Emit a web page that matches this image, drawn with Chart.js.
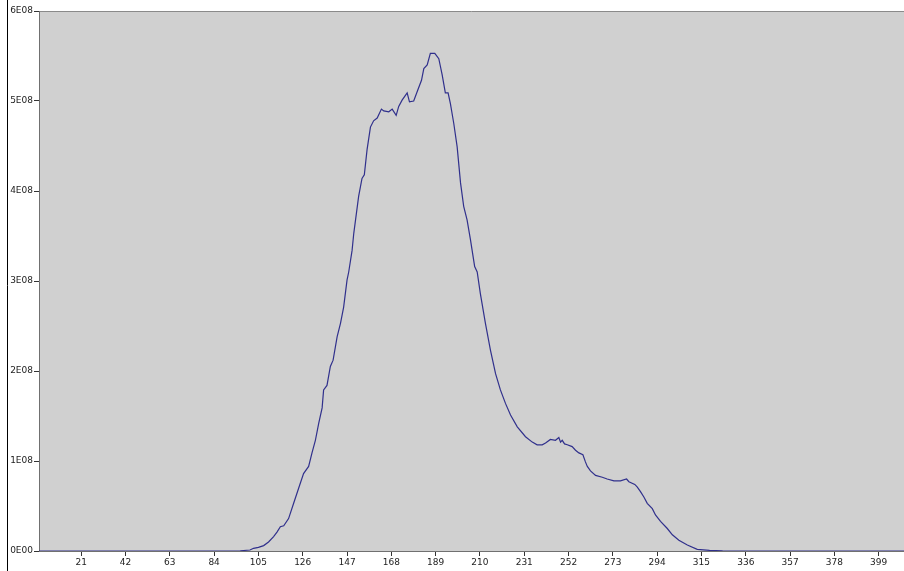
<!DOCTYPE html>
<html>
<head>
<meta charset="utf-8">
<title>Histogram</title>
<script src="https://cdn.jsdelivr.net/npm/chart.js@4.4.0/dist/chart.umd.min.js"></script>
<style>
    body { margin: 0; background: #fff; }
    canvas { display: block; }
</style>
</head>
<body>
<canvas id="histChart" width="904" height="571"></canvas>
<script>
// Values (y in units of 1E08)
const X_VALUES = [1, 85, 96.4, 101, 102.7, 105, 107.5, 109.8, 112.2, 113.8, 115.4, 117, 119.3, 121.7, 124.1, 126.4, 128.8, 130.4, 132, 133.6,
    135.2, 135.9, 137.5, 139.1, 140.4, 142.3, 143.9, 145.4, 147, 147.8, 149.4, 150.2, 152.5, 154.1, 155.2, 156.5, 158.1, 159.6, 161.3, 163.3,
    164.4, 166.8, 168.4, 170.3, 171.5, 173.1, 175.5, 176.6, 178.6, 180.5, 182.3, 183.4, 185, 186.5, 188.6, 190.5, 192.1, 193.6, 194.9, 196,
    197.6, 199.2, 200.8, 202.3, 203.9, 205.5, 207.5, 208.7, 210.2, 212.6, 215, 217.4, 219.7, 222.1, 224.5, 227.7, 231.6, 234.8, 237.1, 239.5,
    241.1, 243.4, 245.8, 247.4, 248.2, 249, 250.1, 251.4, 253.7, 255.3, 256.9, 258.8, 260, 260.9, 262.4, 264.8, 268, 270.3, 273.5, 276.6,
    279.5, 280.6, 283.4, 284.6, 286.1, 287.7, 289.3, 291.7, 293.2, 295.6, 298.8, 301.2, 304.3, 308.3, 313, 318.8, 325, 411];

const Y_VALUES = [0, 0, 0.003, 0.011, 0.03, 0.041, 0.06, 0.10, 0.16, 0.21, 0.27, 0.28, 0.36, 0.53, 0.70, 0.86, 0.94, 1.09, 1.23, 1.42,
    1.59, 1.79, 1.84, 2.05, 2.12, 2.38, 2.53, 2.71, 3.01, 3.10, 3.34, 3.53, 3.94, 4.14, 4.18, 4.46, 4.71, 4.78, 4.81, 4.91,
    4.89, 4.88, 4.91, 4.84, 4.94, 5.01, 5.09, 4.99, 5.00, 5.12, 5.23, 5.36, 5.40, 5.53, 5.53, 5.47, 5.29, 5.09, 5.09, 4.97,
    4.75, 4.49, 4.09, 3.83, 3.68, 3.46, 3.16, 3.10, 2.86, 2.53, 2.23, 1.97, 1.79, 1.64, 1.51, 1.38, 1.27, 1.21, 1.18, 1.18,
    1.20, 1.24, 1.23, 1.26, 1.21, 1.23, 1.19, 1.18, 1.16, 1.12, 1.09, 1.07, 0.99, 0.94, 0.89, 0.84, 0.82, 0.80, 0.78, 0.78,
    0.80, 0.77, 0.74, 0.71, 0.66, 0.60, 0.53, 0.47, 0.40, 0.33, 0.25, 0.18, 0.12, 0.067, 0.019, 0.008, 0.003, 0];

const X_TICKS = [21, 42, 63, 84, 105, 126, 147, 168, 189, 210, 231, 252, 273, 294, 315, 336, 357, 378, 399];
const Y_TICKS = [0, 1, 2, 3, 4, 5, 6];
const Y_TICK_LABELS = ['0E00', '1E08', '2E08', '3E08', '4E08', '5E08', '6E08'];

// Gray plot background, top border and the black frame line on the left
const framePlugin = {
    id: 'frame',
    beforeDraw(chart) {
        const { ctx, chartArea: a } = chart;
        ctx.save();
        ctx.fillStyle = '#d0d0d0';
        ctx.fillRect(a.left, a.top, a.right - a.left, a.bottom - a.top);
        ctx.strokeStyle = '#000';
        ctx.lineWidth = 1;
        ctx.beginPath();
        ctx.moveTo(7.5, 0);
        ctx.lineTo(7.5, chart.height);
        ctx.stroke();
        ctx.strokeStyle = '#8a8a8a';
        ctx.beginPath();
        ctx.moveTo(a.left, a.top + 0.5);
        ctx.lineTo(a.right, a.top + 0.5);
        ctx.stroke();
        ctx.restore();
    }
};

Chart.defaults.font.family = "'DejaVu Sans', sans-serif";
Chart.defaults.font.size = 9;
Chart.defaults.color = '#222';

const ctx = document.getElementById('histChart').getContext('2d');
const histChart = new Chart(ctx, {
    type: 'line',
    data: {
        datasets: [{
            data: X_VALUES.map((x, i) => ({ x: x, y: Y_VALUES[i] })),
            borderColor: '#30308c',
            borderWidth: 1.2,
            pointRadius: 0,
            pointHoverRadius: 0,
            fill: false,
            tension: 0
        }]
    },
    options: {
        responsive: false,
        animation: false,
        layout: {
            padding: { top: 11, right: 0, left: 0, bottom: 0 }
        },
        scales: {
            x: {
                type: 'linear',
                min: 1,
                max: 411,
                afterBuildTicks: (scale) => {
                    scale.ticks = X_TICKS.map(v => ({ value: v }));
                },
                afterFit: (scale) => {
                    scale.height = 20;
                },
                ticks: {
                    autoSkip: false,
                    maxRotation: 0,
                    padding: 1,
                    callback: (value) => String(value)
                },
                grid: {
                    drawOnChartArea: false,
                    drawTicks: true,
                    tickLength: 5,
                    color: '#333'
                },
                border: {
                    display: true,
                    color: '#707070'
                }
            },
            y: {
                min: 0,
                max: 6,
                afterBuildTicks: (scale) => {
                    scale.ticks = Y_TICKS.map(v => ({ value: v }));
                },
                afterFit: (scale) => {
                    scale.width = 39;
                },
                ticks: {
                    padding: 1,
                    callback: (value, index) => Y_TICK_LABELS[index]
                },
                grid: {
                    drawOnChartArea: false,
                    drawTicks: true,
                    tickLength: 5,
                    color: '#333'
                },
                border: {
                    display: true,
                    color: '#707070'
                }
            }
        },
        plugins: {
            legend: { display: false },
            tooltip: { enabled: false }
        }
    },
    plugins: [framePlugin]
});
</script>
</body>
</html>
